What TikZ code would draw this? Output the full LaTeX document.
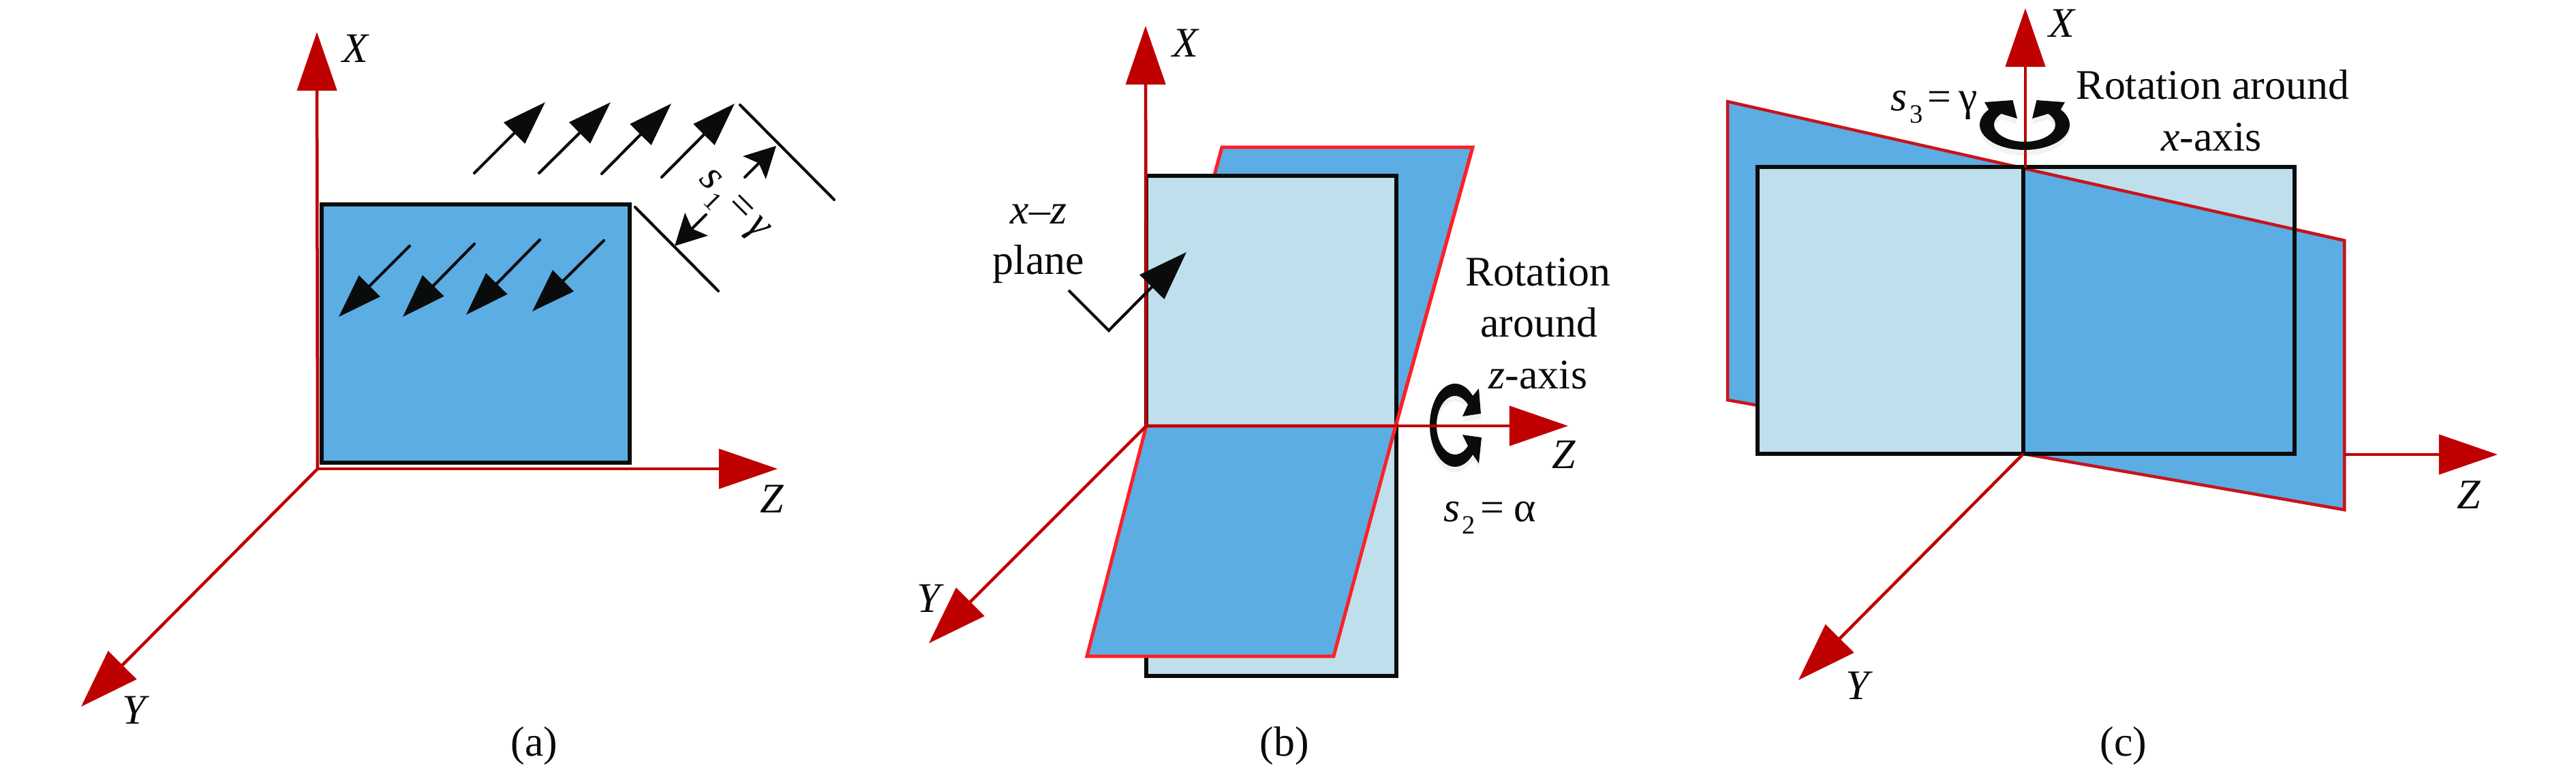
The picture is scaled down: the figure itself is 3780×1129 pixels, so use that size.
\documentclass[tikz,border=0pt]{standalone}
\usepackage{fontspec}
\setmainfont{Liberation Serif}
\usetikzlibrary{arrows.meta}
\definecolor{axisred}{HTML}{BE0000}
\definecolor{edgered}{HTML}{FF2028}
\definecolor{edgedark}{HTML}{C8141C}
\definecolor{planeblue}{HTML}{5BADE3}
\definecolor{planelight}{HTML}{BFDFEC}
\definecolor{inkblack}{HTML}{0A0C0C}
\newcommand{\subnum}[1]{\raisebox{-0.3em}{\fontsize{11}{13}\selectfont #1}}
\newcommand{\ringz}{plot[domain=315:45,samples=50] ({37*cos(\x)},{61*sin(\x)}) -- (35,56) -- (39,18) -- (11,14) -- plot[domain=45:315,samples=50] ({27*cos(\x)},{43*sin(\x)}) -- (11,-13) -- (38,-17) -- (35,-54) -- cycle}
\newcommand{\ringx}{plot[domain=217:-37,samples=50] ({66*cos(\x)},{37*sin(\x)}) -- (59,-33) -- (17.5,-36) -- (11,-9) -- plot[domain=-40:220,samples=50] ({45*cos(\x)},{25*sin(\x)}) -- (-11,-9) -- (-17.5,-36) -- (-59,-33) -- cycle}
\tikzset{
  x=0.01cm,y=-0.01cm,
  lbl/.style={inner sep=0pt,outer sep=0pt,text=inkblack,font=\fontsize{17.6}{21}\selectfont},
  axisline/.style={draw=axisred,line width=0.045cm,-{Triangle[length=0.86cm,width=0.58cm,fill=axisred]}},
  beam/.style={draw=inkblack,line width=0.042cm,line cap=round,-{Triangle[length=0.64cm,width=0.43cm,fill=inkblack]}},
  shortbeam/.style={draw=inkblack,line width=0.042cm,line cap=round,-{Stealth[length=0.45cm,width=0.47cm,inset=0.09cm,fill=inkblack]}},
  tick/.style={draw=inkblack,line width=0.042cm,line cap=round},
  plate/.style={draw=inkblack,line width=0.055cm,line join=miter},
  blueplane/.style={fill=planeblue,draw=edgered,line width=0.05cm,line join=miter},
  blueplanedark/.style={fill=planeblue,draw=edgedark,line width=0.045cm,line join=miter},
}
\begin{document}
\begin{tikzpicture}
\useasboundingbox (0,0) rectangle (3780,1129);
\fill[white] (0,0) rectangle (3780,1129);

% ---------- panel (a)
\coordinate (ao) at (466,688);
\coordinate (ax) at (465,47);
\coordinate (az) at (1141,688);
\coordinate (ay) at (119,1037);
\draw[plate,fill=planeblue] (472,300) rectangle (924,679);
\draw[axisline] (ao) -- (ax);
\draw[axisline] (ao) -- (az);
\draw[axisline] (ao) -- (ay);
\node[lbl] (aX) at (522,71) {\textit{X}};
\node[lbl] (aZ) at (1133,732) {\textit{Z}};
\node[lbl] (aY) at (199,1042) {\textit{Y}};
\node[lbl] (acap) at (784,1095) {(a)};
\foreach \n/\ax/\ay/\bx/\by in {1/696/254/800/150,2/791/254/896/150,3/883/255/985/152,4/971/260/1078/152,5/601/361/497/465,6/696/358/591/465,7/792/352/684/462,8/886/353/781/457}{
  \coordinate (s\n) at (\ax,\ay);
  \coordinate (e\n) at (\bx,\by);
  \draw[beam] (s\n) -- (e\n);
}
\coordinate (t1a) at (1086,154);
\coordinate (t1b) at (1224,293);
\coordinate (t2a) at (932,304);
\coordinate (t2b) at (1054,427);
\draw[tick] (t1a) -- (t1b);
\draw[tick] (t2a) -- (t2b);
\coordinate (d1a) at (1093,260);
\coordinate (d1b) at (1139,214);
\coordinate (d2a) at (1036,315);
\coordinate (d2b) at (990,361);
\draw[shortbeam] (d1a) -- (d1b);
\draw[shortbeam] (d2a) -- (d2b);
\node[lbl,rotate=-45] (as) at (1072,305) {\textit{s}\hspace{1pt}\subnum{1}\hspace{2.5pt}=\hspace{2.5pt}\textit{γ}};

% ---------- panel (b)
\coordinate (bo) at (1682,625);
\coordinate (bx) at (1681,38);
\coordinate (bz) at (2301,625);
\coordinate (by) at (1363,944);
\coordinate (bc) at (2048,625);
\draw[blueplane] (1793,216) -- (2161,216) -- (bc) -- (bo) -- cycle;
\draw[plate,fill=planelight] (1682,258) rectangle (2049,992);
\draw[axisline] (bo) -- (bx);
\draw[blueplane] (bo) -- (bc) -- (1957,963) -- (1595,963) -- cycle;
\draw[edgered,line width=0.05cm] (2161,216) -- (bc);
\fill[gray,opacity=0.10,shift={(2135,632)}] \ringz;
\fill[inkblack,shift={(2135,624)}] \ringz;
\draw[axisline] (bo) -- (bz);
\draw[axisline] (bo) -- (by);
\coordinate (b1) at (1568,426);
\coordinate (b2) at (1627,485);
\coordinate (b3) at (1741,370);
\draw[draw=inkblack,line width=0.042cm,-{Triangle[length=0.72cm,width=0.5cm,fill=inkblack]}] (b1) -- (b2) -- (b3);
\node[lbl] (bX) at (1740,63) {\textit{X}};
\node[lbl] (bZ) at (2295,667) {\textit{Z}};
\node[lbl] (bY) at (1365,878) {\textit{Y}};
\node[lbl] (bxz) at (1524,314) {\textit{x–z}};
\node[lbl] (bpl) at (1524,388) {plane};
\node[lbl] (br1) at (2257,399) {Rotation};
\node[lbl] (br2) at (2258,473) {around};
\node[lbl] (br3) at (2257,550) {\textit{z}-axis};
\node[lbl] (bs) at (2186,760) {\textit{s}\hspace{1pt}\subnum{2}\hspace{2pt}=\hspace{4pt}α};
\node[lbl] (bcap) at (1885,1095) {(b)};

% ---------- panel (c)
\coordinate (co) at (2969,666);
\coordinate (cb) at (2972,246);
\coordinate (cx) at (2972,12);
\coordinate (cz0) at (3440,667);
\coordinate (cz) at (3665,667);
\coordinate (cy) at (2639,998);
\coordinate (ct) at (2969,247);
\draw[blueplanedark] (2535,149) -- (3440,353) -- (3440,748) -- (2535,587) -- cycle;
\fill[planelight] (2579,245) rectangle (3367,666);
\draw[blueplanedark] (ct) -- (3440,353) -- (3440,748) -- (co) -- cycle;
\draw[plate] (2579,245) rectangle (3367,666);
\draw[plate] (ct) -- (co);
\draw[axisline] (cb) -- (cx);
\draw[axisline] (cz0) -- (cz);
\draw[axisline] (co) -- (cy);
\fill[gray,opacity=0.10,shift={(2971,191)}] \ringx;
\fill[inkblack,shift={(2971,183)}] \ringx;
\node[lbl] (cX) at (3026,34) {\textit{X}};
\node[lbl] (cZ) at (3623,726) {\textit{Z}};
\node[lbl] (cY) at (2728,1006) {\textit{Y}};
\node[lbl] (cr1) at (3247,124) {Rotation around};
\node[lbl] (cr2) at (3245,201) {\textit{x}-axis};
\node[lbl] (cs) at (2838,157) {\textit{s}\hspace{1pt}\subnum{3}\hspace{2pt}=\hspace{3pt}γ};
\node[lbl] (ccap) at (3116,1095) {(c)};
\end{tikzpicture}
\end{document}
